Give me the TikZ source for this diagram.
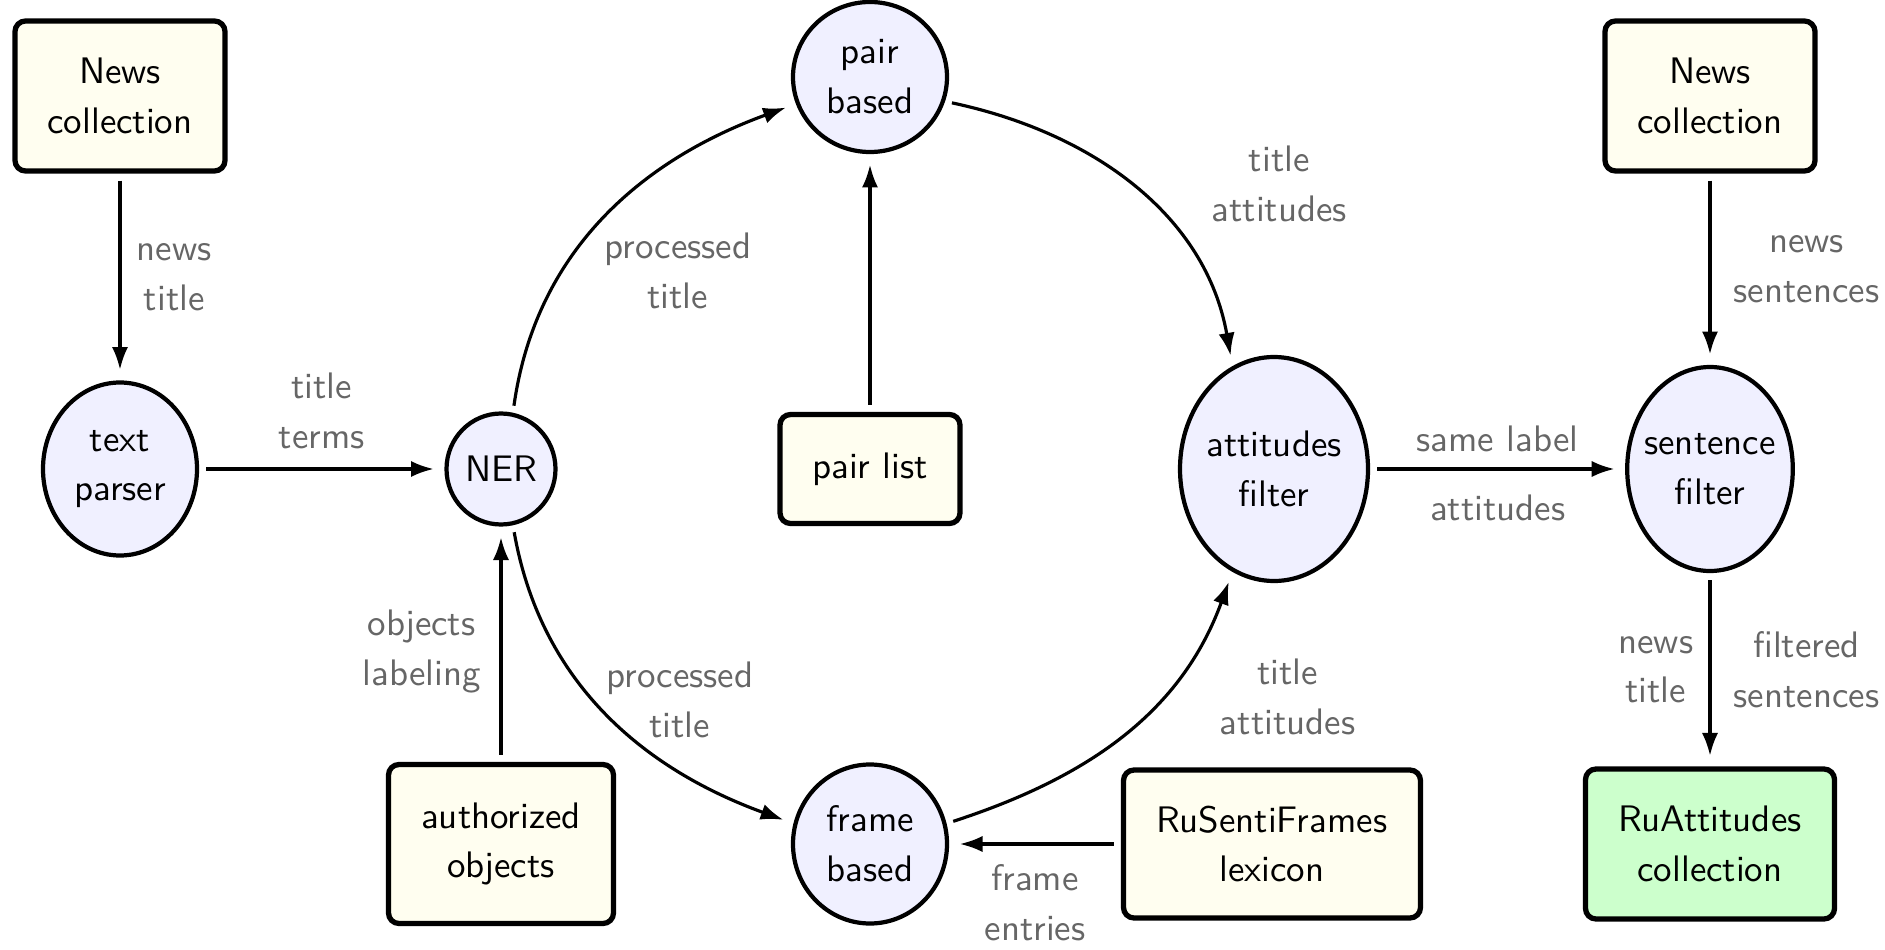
\documentclass[tikz,border=0pt]{standalone}
\usepackage{tikz}
\usetikzlibrary{shapes.geometric,arrows.meta,positioning}

\begin{document}
\begin{tikzpicture}[
font=\sffamily\fontsize{10.5pt}{14.2pt}\selectfont,
proc/.style={ellipse,draw=black,line width=1.2pt,fill=blue!6,inner xsep=-2pt,inner ysep=0pt,align=center},
res/.style={rectangle,rounded corners=3pt,draw=black,line width=1.5pt,fill=yellow!6,align=center},
lbl/.style={text=black!60,align=center},
flow/.style={-{Latex[length=6.5pt,width=4.6pt]},line width=0.9pt,shorten >=3pt,shorten <=2pt}
]
\useasboundingbox (0,0) rectangle (18.85,9.49);

% sources and results
\node[res,minimum width=2.1cm,minimum height=1.5cm] (newsl) at (1.2,8.53) {News\\collection};
\node[res,minimum width=2.1cm,minimum height=1.5cm] (newsr) at (17.1,8.53) {News\\collection};
\node[res,minimum width=1.8cm,minimum height=1.09cm] (pairl) at (8.7,4.8) {pair list};
\node[res,minimum width=2.25cm,minimum height=1.59cm] (authobj) at (5.01,1.05) {authorized\\objects};
\node[res,minimum width=2.97cm,minimum height=1.48cm] (rusenti) at (12.72,1.05) {RuSentiFrames\\lexicon};
\node[res,fill=green!20,minimum width=2.49cm,minimum height=1.5cm] (ruatt) at (17.1,1.05) {RuAttitudes\\collection};

% processing steps
\node[proc,minimum width=1.54cm,minimum height=1.73cm] (parser) at (1.2,4.8) {text\\parser};
\node[proc,minimum width=1.09cm,minimum height=1.11cm] (ner) at (5.01,4.8) {NER};
\node[proc,minimum width=1.54cm,minimum height=1.5cm] (pairb) at (8.7,8.72) {pair\\based};
\node[proc,minimum width=1.54cm,minimum height=1.59cm] (frameb) at (8.7,1.05) {frame\\based};
\node[proc,minimum width=1.88cm,minimum height=2.24cm] (attf) at (12.74,4.8) {attitudes\\filter};
\node[proc,minimum width=1.62cm,minimum height=2.04cm] (sentf) at (17.1,4.8) {sentence\\filter};

\draw[flow] (newsl) -- node[lbl,right=1pt] {news\\title} (parser);
\draw[flow] (parser) -- node[lbl,above=2pt] {title\\terms} (ner);
\draw[flow] (ner.78) to[out=82,in=200] node[lbl,pos=0.45,below right,yshift=4pt] {processed\\title} (pairb.200);
\draw[flow] (pairl) -- (pairb);
\draw[flow] (pairb.-18) to[out=-12,in=100] node[lbl,pos=0.35,above right,xshift=32pt,yshift=-23pt] {title\\attitudes} (attf.112);
\draw[flow] (ner.-78) to[out=-80,in=160] node[lbl,pos=0.5,above right,xshift=-4pt,yshift=-11pt] {processed\\title} (frameb.165);
\draw[flow] (authobj) -- node[lbl,left=2pt,yshift=-2pt] {objects\\labeling} (ner);
\draw[flow] (frameb.15) to[out=18,in=-110] node[lbl,pos=0.7,right,xshift=9pt,yshift=-5pt] {title\\attitudes} (attf.-112);
\draw[flow] (rusenti) -- node[lbl,below=2pt] {frame\\entries} (frameb);
\draw[flow] (attf) -- node[lbl,above=1pt] {same label} node[lbl,below=3.5pt] {attitudes} (sentf);
\draw[flow] (newsr) -- node[lbl,right=3pt] {news\\sentences} (sentf);
\draw[flow] (sentf) -- node[lbl,left=1pt] {news\\title} node[lbl,right=3pt] {filtered\\sentences} (ruatt);
\end{tikzpicture}
\end{document}
